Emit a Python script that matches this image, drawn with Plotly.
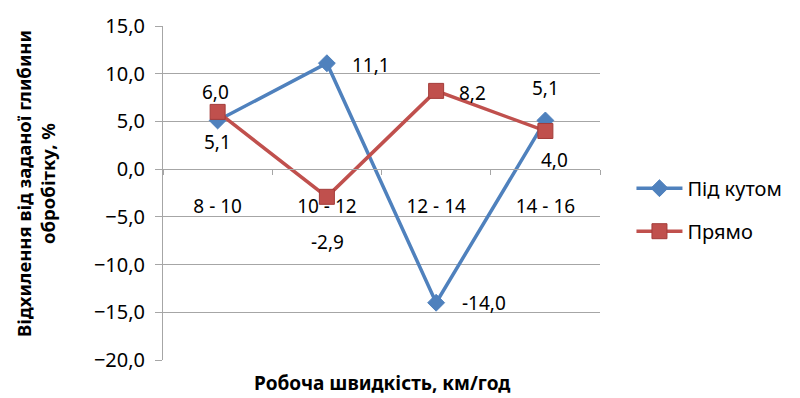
import plotly.graph_objects as go

categories = ["8 - 10", "10 - 12", "12 - 14", "14 - 16"]
pid_kutom = [5.1, 11.1, -14.0, 5.1]
pryamo = [6.0, -2.9, 8.2, 4.0]
y_ticks = [15, 10, 5, 0, -5, -10, -15, -20]

FONT = "Noto Sans"
BLUE = "#4F81BD"
RED = "#C0504D"
GRID = "#A6A6A6"

fig = go.Figure()
fig.add_trace(go.Scatter(
    x=categories, y=pid_kutom, name="Під кутом", mode="lines+markers",
    line=dict(color=BLUE, width=3.5),
    marker=dict(symbol="diamond", size=13, color=BLUE, line=dict(color=BLUE, width=1)),
    legendgroup="a"))
fig.add_trace(go.Scatter(
    x=categories, y=pryamo, name="Прямо", mode="lines+markers",
    line=dict(color=RED, width=3.5),
    marker=dict(symbol="square", size=15, color=RED, line=dict(color="#A33C39", width=1)),
    legendgroup="b"))

def fmt(v):
    return f"{v:.1f}".replace(".", ",")

LBL = 19
blue_off = [dict(xshift=0, yshift=-22, xanchor="center"),
            dict(xshift=23, yshift=-2, xanchor="left"),
            dict(xshift=24, yshift=0, xanchor="left"),
            dict(xshift=0, yshift=32, xanchor="center")]
red_off = [dict(xshift=-2, yshift=20, xanchor="center"),
           dict(xshift=1, yshift=-45, xanchor="center"),
           dict(xshift=21, yshift=-2, xanchor="left"),
           dict(xshift=9, yshift=-29, xanchor="center")]

annotations = []
for cat, v, o in zip(categories, pid_kutom, blue_off):
    annotations.append(dict(x=cat, y=v, xref="x", yref="y", text=fmt(v), showarrow=False,
                            font=dict(family=FONT, size=LBL, color="#000"), yanchor="middle", **o))
for cat, v, o in zip(categories, pryamo, red_off):
    annotations.append(dict(x=cat, y=v, xref="x", yref="y", text=fmt(v), showarrow=False,
                            font=dict(family=FONT, size=LBL, color="#000"), yanchor="middle", **o))

annotations.append(dict(x=0.5, y=0, xref="paper", yref="paper", yanchor="top", yshift=-8,
                        text="<b>Робоча швидкість, км/год</b>", showarrow=False,
                        font=dict(family=FONT, size=19, color="#000")))
annotations.append(dict(x=0, y=0.5, xref="paper", yref="paper", xshift=-128, yshift=9,
                        textangle=-90, xanchor="center", yanchor="middle",
                        text="<b>Відхилення від заданої глибини<br>обробітку, %</b>",
                        showarrow=False, font=dict(family=FONT, size=18.5, color="#000")))

fig.update_layout(
    width=800, height=398,
    margin=dict(l=163, r=191, t=26, b=38),
    paper_bgcolor="white", plot_bgcolor="white",
    separators=", ",
    font=dict(family=FONT, color="#000"),
    showlegend=True,
    legend=dict(x=1.072, y=0.45, xanchor="left", yanchor="middle",
                font=dict(family=FONT, size=20, color="#000"),
                itemwidth=46,
                traceorder="grouped", tracegroupgap=14, bgcolor="rgba(0,0,0,0)"),
    annotations=annotations,
)
fig.update_xaxes(
    type="category", range=[-0.5, 3.5], anchor="free", position=20/35,
    showline=True, linecolor=GRID, linewidth=1, showgrid=False,
    ticks="outside", tickson="boundaries", ticklen=5, tickcolor=GRID,
    ticklabelstandoff=20, tickfont=dict(family=FONT, size=19, color="#000"),
    zeroline=False,
)
fig.update_yaxes(
    range=[-20, 15], tickvals=y_ticks, tickformat=".1f",
    showline=True, linecolor=GRID, linewidth=1,
    showgrid=True, gridcolor=GRID, gridwidth=1,
    ticks="outside", ticklen=7, tickcolor=GRID,
    ticklabelstandoff=6,
    tickfont=dict(family=FONT, size=20, color="#000"),
    zeroline=False,
)

fig.write_html("out.html")
